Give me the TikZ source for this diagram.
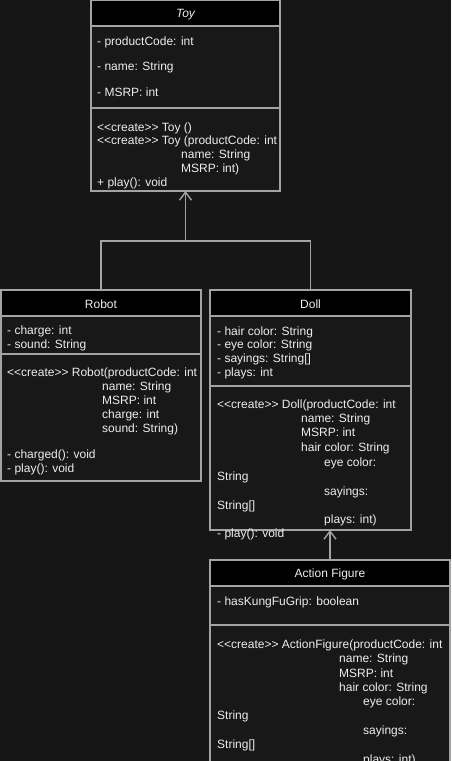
\documentclass[tikz,border=0pt]{standalone}
\usepackage{fontspec}
\setmainfont{Liberation Sans}
\usetikzlibrary{arrows.meta}
\definecolor{bgc}{HTML}{161616}
\definecolor{bodyc}{HTML}{181818}
\definecolor{linec}{HTML}{A3A3A3}
\definecolor{textc}{HTML}{EDEDED}
% stereotype in angle brackets, kept apart so no guillemet is formed
\newcommand\stereo[1]{<\kern0pt<#1>\kern0pt>}

\begin{document}
\begin{tikzpicture}[x=1pt,y=-1pt,
  part/.style={draw=linec, line width=1.4pt, fill=bodyc, inner sep=0pt, outer sep=0pt,
               anchor=north west, text=textc, font=\fontsize{12}{14}\selectfont},
  head/.style={part, fill=black},
  title/.style={text=textc, font=\fontsize{12}{14}\selectfont, yshift=-1.5pt},
  txt/.style={anchor=base west, inner sep=0pt, text=textc, font=\fontsize{12}{14}\selectfont},
  link/.style={draw=linec, line width=1.4pt},
  inh/.style={link, -{Straight Barb[length=8pt,width=12pt,line width=1.4pt]}}]

\useasboundingbox (0,0) rectangle (451,761);
\fill[bgc] (0,0) rectangle (451,761);
\clip (0,0) rectangle (451,761);

% ---------- Toy ----------
\node[head, minimum width=189pt, minimum height=26pt] (toyH) at (91,0) {};
\node[title, font=\fontsize{12}{14}\selectfont\itshape] (toyT) at (toyH.center) {Toy};
\node[part, minimum width=189pt, minimum height=82pt] (toyA) at (91,26) {};
\node[part, minimum width=189pt, minimum height=83pt] (toyM) at (91,108) {};
\node[txt] (toy1) at (97,45) {- productCode: int};
\node[txt] (toy2) at (97,70.5) {- name: String};
\node[txt] (toy3) at (97,96) {- MSRP: int};
\node[txt] (toy4) at (97,131) {\stereo{create} Toy ()};
\node[txt] (toy5) at (97,144.5) {\stereo{create} Toy (productCode: int};
\node[txt] (toy6) at (181,158.5) {name: String};
\node[txt] (toy7) at (181,172.5) {MSRP: int)};
\node[txt] (toy8) at (97,186.5) {+ play(): void};

% ---------- Robot ----------
\node[head, minimum width=200pt, minimum height=26pt] (robH) at (1,290) {};
\node[title] (robT) at (robH.center) {Robot};
\node[part, minimum width=200pt, minimum height=38pt] (robA) at (1,316) {};
\node[part, minimum width=200pt, minimum height=127pt] (robM) at (1,354) {};
\node[txt] (rob1) at (7,334) {- charge: int};
\node[txt] (rob2) at (7,348) {- sound: String};
\begin{scope}
  \clip ([xshift=-1pt]robM.north west) rectangle ([xshift=-4pt]robM.south east);
  \node[txt] (rob3) at (7,376.5) {\stereo{create} Robot(productCode: int};
\end{scope}
\node[txt] (rob4) at (102,390.5) {name: String};
\node[txt] (rob5) at (102,404.5) {MSRP: int};
\node[txt] (rob6) at (102,418.5) {charge: int};
\node[txt] (rob7) at (102,432.5) {sound: String)};
\node[txt] (rob8) at (7,458) {- charged(): void};
\node[txt] (rob9) at (7,472.5) {- play(): void};

% ---------- Doll ----------
\node[head, minimum width=201pt, minimum height=26pt] (dollH) at (210,290) {};
\node[title] (dollT) at (dollH.center) {Doll};
\node[part, minimum width=201pt, minimum height=70pt] (dollA) at (210,316) {};
\node[part, minimum width=201pt, minimum height=144pt] (dollM) at (210,386) {};
\node[txt] (doll1) at (217,335) {- hair color: String};
\node[txt] (doll2) at (217,348.5) {- eye color: String};
\node[txt] (doll3) at (217,362.5) {- sayings: String[]};
\node[txt] (doll4) at (217,376.5) {- plays: int};
\node[txt] (doll5) at (217,408.5) {\stereo{create} Doll(productCode: int};
\node[txt] (doll6) at (301,422.5) {name: String};
\node[txt] (doll7) at (301,436.5) {MSRP: int};
\node[txt] (doll8) at (301,451) {hair color: String};
\node[txt] (doll9) at (324,466) {eye color:};
\node[txt] (doll10) at (217,480.5) {String};
\node[txt] (doll11) at (324,495) {sayings:};
\node[txt] (doll12) at (217,509.5) {String[]};
\node[txt] (doll13) at (324,523.5) {plays: int)};
\node[txt] (doll14) at (217,537.5) {- play(): void};

% ---------- Action Figure ----------
\node[head, minimum width=240pt, minimum height=26pt] (afH) at (210,560) {};
\node[title] (afT) at (afH.center) {Action Figure};
\node[part, minimum width=240pt, minimum height=39pt] (afA) at (210,586) {};
\node[part, minimum width=240pt, minimum height=150pt] (afM) at (210,625) {};
\node[txt] (af1) at (217,605) {- hasKungFuGrip: boolean};
\node[txt] (af2) at (217,648.5) {\stereo{create} ActionFigure(productCode: int};
\node[txt] (af3) at (339,662.5) {name: String};
\node[txt] (af4) at (339,677) {MSRP: int};
\node[txt] (af5) at (339,691) {hair color: String};
\node[txt] (af6) at (363,705) {eye color:};
\node[txt] (af7) at (217,719.5) {String};
\node[txt] (af8) at (363,734.5) {sayings:};
\node[txt] (af9) at (217,748.5) {String[]};
\node[txt] (af10) at (363,763) {plays: int)};

% ---------- generalisation connectors ----------
\coordinate (join) at (185.5,241);
\draw[link] (robH.north) |- (join);
\draw[link] (dollH.north) |- (join);
\draw[inh] (join) -- (toyM.south);
\draw[inh] (afH.north) -- (afH.north |- dollM.south);

\end{tikzpicture}
\end{document}
